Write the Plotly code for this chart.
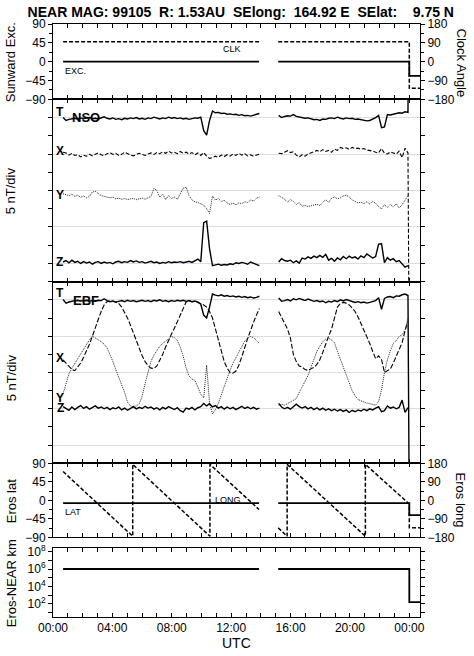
import numpy as np
import plotly.graph_objects as go

# ------------------------------------------------------------------ data
TITLE = "NEAR MAG: 99105  R: 1.53AU  SElong:  164.92 E  SElat:    9.75 N"
HOUR_TICKS = [0, 4, 8, 12, 16, 20, 24]
HOUR_LABELS = ["00:00", "04:00", "08:00", "12:00", "16:00", "20:00", "00:00"]
X_RANGE = [0, 24.72]

# sample-time grid of the two data segments (hours UTC), gap in between
SEG1 = (0.68, 13.9, 68)
SEG2 = (15.2, 23.91, 45)
GAP_T = 14.5
TAIL_T = [24.0, 24.72]

# ---- NSO components, deviation from their baseline (nT)
NSO_T1 = [0.0, -0.8, -0.5, -0.3, -0.2, -0.4, -0.1, -0.3, -0.2, 0.0, -0.3, -0.2, -0.4, -0.1, 0.2,
          -0.2, -0.4, -0.1, -0.5, -0.3, -0.6, -0.2, -0.4, -0.1, -0.3, 0.0, -0.4, -0.2, -0.5, -0.1, -0.3,
          0.1, -0.2, -0.4, -0.1, -0.3, 0.1, -0.2, 0.0, -0.3, -0.1, -0.4, -0.2, -0.5, -0.3, -0.1, -0.2,
          0.1, -3.6, -4.8, -0.8, 1.8, 1.3, 1.4, 1.1, 1.2, 0.9, 1.0, 0.8, 0.9, 0.6, 0.8, 0.5, 0.6, 0.4,
          0.6, 0.8, 1.1]
NSO_T2 = [0.6, 0.0, 0.3, 0.5, 0.4, 0.8, 0.3, 0.1, 0.0, -0.2, -0.1, -0.4, -0.6, -0.5, -0.8, -0.4,
          -0.5, -0.2, -0.1, -0.3, 0.1, -0.2, -0.4, -0.1, -0.3, -0.2, -0.5, -0.4, -0.6, -0.7, -0.9,
          -0.8, -0.5, 0.0, 0.6, -2.8, -2.6, 0.8, 0.7, 0.9, 1.0, 1.3, 1.2, 1.6, 1.4]
NSO_T_TAIL = [60, 60]

NSO_X1 = [0.5, 0.3, -0.3, 0.2, -0.4, -0.2, -0.8, -0.3, -0.6, -0.1, -0.5, -0.2, 0.3, -0.2, -0.5,
          0.1, 0.4, -0.1, 0.2, -0.4, -0.1, 0.5, 0.0, -0.3, -0.5, -0.2, 0.2, -0.1, -0.4, 0.0, 0.3,
          -0.1, 0.4, 0.1, 0.6, 0.2, 0.8, 0.3, 0.5, 0.1, 0.7, 0.2, 0.5, 0.0, 0.4, -0.2, 0.3, -0.4,
          0.4, -0.6, -1.2, -1.0, -0.6, -0.9, -0.3, -0.7, -0.2, -0.6, 0.0, -0.4, 0.2, -0.3, 0.1,
          -0.5, -0.2, -0.6, -0.3, 0.0]
NSO_X2 = [0.2, 0.1, 0.5, 0.9, 0.4, 0.6, -0.3, -0.8, -0.2, -0.6, 0.0, 0.3, 0.8, 1.0, 0.6, 1.2,
          0.7, 1.0, 0.5, 1.4, 1.0, 1.8, 1.5, 1.7, 1.3, 1.8, 1.5, 1.6, 1.3, 1.5, 1.1, 1.0, 0.8, 0.5,
          0.3, 1.5, 0.2, 0.0, 0.6, 0.3, 0.0, 0.8, -1.0, 1.6, 0.3]
NSO_X_TAIL = [-60, -60]

NSO_Y1 = [-0.9, -1.2, -1.4, -1.0, -1.6, -1.3, -1.9, -1.5, -2.0, -1.6, -0.4, -0.2, -0.8, -1.4,
          -1.6, -1.9, -2.0, -1.8, -2.3, -2.1, -2.4, -2.2, -2.5, -2.3, -2.2, -2.5, -2.3, -2.1, -2.4,
          -2.0, -1.6, 0.6, 0.0, -1.8, -1.0, -2.5, -1.4, -2.2, -1.8, -2.4, -0.8, 0.6, 0.9, -1.4,
          -2.6, -3.1, -3.3, -3.6, -4.0, -5.0, -6.3, -1.5, -2.6, -2.2, -3.0, -2.7, -3.4, -3.8, -3.5,
          -3.9, -3.4, -3.6, -3.1, -3.3, -2.6, -2.9, -2.1, -1.8]
NSO_Y2 = [-1.4, -1.8, -2.4, -3.2, -2.5, -3.0, -3.8, -3.3, -4.3, -4.1, -4.4, -4.2, -4.0, -3.8,
          -4.1, -3.2, -2.5, -3.3, -2.1, -1.8, -2.3, -2.0, -1.5, -1.3, -1.8, -2.6, -3.0, -3.4, -3.2,
          -3.6, -3.1, -3.7, -3.0, -3.5, -4.4, -5.0, -3.9, -4.6, -3.8, -4.5, -3.6, -4.8, -3.9, -2.6,
          -1.4]

NSO_Z1 = [0.4, 0.8, 0.2, 0.9, 0.3, 0.6, 0.0, 0.5, 0.1, 0.4, -0.2, 0.3, 0.5, 0.0, 0.4, 0.1, 0.3,
          -0.1, 0.4, 0.6, 0.2, 0.5, 0.3, 0.8, 0.4, 0.7, 0.3, 0.5, 0.1, 0.4, 0.6, 0.2, 0.4, 0.0, 0.3,
          0.1, 0.5, 0.2, 0.4, 0.3, 0.5, 0.2, 0.4, 0.6, 0.3, 0.7, 1.2, 0.5, 11.2, 11.6, 4.0, -0.6,
          -0.4, -0.2, -0.5, -0.3, -0.4, -0.1, -0.3, 0.2, 0.0, 0.3, 0.1, -0.2, 0.4, 0.0, -0.4, -0.6]
NSO_Z2 = [0.4, 1.3, 0.8, 0.6, 0.9, 0.2, 0.7, 0.1, 1.5, 1.2, 1.8, 1.4, 2.0, 1.6, 2.2, 1.7, 2.5,
          0.9, 1.4, 0.6, 1.5, 1.0, 1.9, 1.3, 2.0, 1.5, 1.8, 1.2, 2.1, 1.6, 2.6, 2.0, 1.5, 1.9, 5.3,
          5.4, 0.2, 1.6, 0.9, 1.3, 0.5, 0.8, -0.2, -1.0, -0.6]

# ---- EBF components, deviation from their baseline (nT)
EBF_T1 = [0.1, -0.9, -0.6, -0.3, -0.2, -0.1, -0.3, -0.2, -0.1, -0.3, -0.2, -0.4, -0.1, -0.2, 0.3,
          -0.2, -0.5, -0.3, -0.6, -0.4, -0.2, -0.5, -0.1, -0.4, -0.2, -0.5, -0.3, -0.1, -0.4, -0.2,
          -0.5, -0.1, -0.3, 0.0, -0.4, -0.2, -0.5, -0.2, -0.4, -0.1, -0.3, -0.1, -0.4, -0.2, -0.5,
          -0.3, -0.6, -1.2, -4.2, -5.0, -2.0, 1.6, 1.3, 1.1, 1.4, 1.0, 1.2, 0.9, 1.1, 0.8, 1.0, 0.7,
          0.9, 0.6, 0.8, 0.5, 0.7, 1.0]
EBF_T2 = [0.5, -0.4, -0.2, 0.1, -0.3, 0.3, 0.0, 0.4, 0.1, -0.2, 0.2, -0.1, -0.4, -0.2, -0.5,
          -0.3, -0.8, -0.4, -0.6, -0.2, -0.5, 0.0, -0.3, 0.1, -0.2, -0.4, -0.7, -0.5, -0.8, -0.6,
          -0.9, -0.7, -0.4, -0.2, 0.6, -2.6, 0.4, 0.8, 0.9, 0.6, 1.1, 1.0, 1.4, 1.6, 1.2]
EBF_T_TAIL = [-60, -60]

EBF_X1 = [3.5, 2.5, 1.5, 0.8, 0.5, 1.4, 2.6, 4.2, 5.8, 7.8, 10.0, 12.5, 14.6, 16.8, 18.6, 19.5,
          19.7, 19.6, 19.4, 19.0, 18.0, 16.6, 15.0, 13.0, 10.8, 8.6, 6.5, 4.6, 3.0, 1.9, 1.2, 1.1,
          1.8, 3.2, 5.0, 7.0, 9.0, 10.6, 12.2, 14.0, 16.0, 18.0, 19.4, 19.7, 19.5, 19.6, 19.3,
          19.0, 18.6, 18.0, 16.8, 15.0, 12.0, 8.5, 5.5, 3.0, 1.2, 0.0, -0.2, 0.4, 2.0, 4.2, 6.8,
          9.4, 11.8, 13.8, 15.8, 17.6]
EBF_X2 = [16.8, 15.0, 13.6, 12.0, 9.5, 5.0, 3.0, 1.8, 1.5, 0.8, 0.6, 1.0, 1.4, 2.2, 3.5, 5.5,
          8.0, 10.0, 12.0, 15.2, 18.0, 19.0, 19.3, 19.1, 18.6, 17.8, 16.8, 15.3, 13.5, 11.8, 9.8,
          8.0, 5.8, 3.8, 4.6, 3.6, 0.0, 0.4, 1.0, 2.6, 4.4, 6.0, 8.2, 11.5, 14.0]

EBF_Y1 = [-5.8, -3.0, -0.4, 1.2, 2.5, 3.6, 5.2, 6.2, 7.6, 9.0, 10.0, 9.6, 9.0, 8.5, 7.8, 6.8,
          5.0, 3.0, 0.8, -1.2, -3.5, -5.5, -8.2, -9.2, -9.4, -9.2, -8.6, -6.5, -3.0, 0.4, 3.0,
          4.8, 6.0, 7.2, 8.0, 8.6, 9.2, 9.9, 9.6, 8.8, 7.0, 4.5, 1.2, -1.0, -1.8, -2.2, -4.0,
          -6.0, -7.0, 2.0, -8.5, -11.4, -10.2, -8.5, -6.2, -3.8, -2.0, 0.6, 2.6, 4.2, 5.8, 7.4,
          8.6, 9.5, 9.9, 9.6, 8.8, 8.0]
EBF_Y2 = [-9.0, -8.7, -9.0, -8.6, -8.2, -7.8, -7.2, -5.5, -3.9, -2.4, -0.8, 1.4, 3.4, 5.8, 7.2,
          8.5, 9.2, 9.4, 9.0, 8.2, 5.8, 3.6, 1.6, -1.0, -3.0, -5.0, -6.4, -7.4, -7.8, -8.2, -8.4,
          -8.6, -8.8, -9.0, -8.0, -4.8, 0.0, 3.5, 6.0, 8.0, 8.8, 9.9, 10.4, 11.7, 15.0]

EBF_Z1 = [0.6, 0.2, -0.4, 0.5, -0.2, 0.4, 0.9, 0.1, 0.6, -0.1, 0.3, 0.8, 0.2, 0.5, 0.0, 0.4,
          -0.2, 0.3, 0.0, 0.5, -0.3, 0.2, -0.4, 0.1, 0.6, 0.0, 0.4, 0.1, 0.7, 0.2, 0.5, -0.1, 0.3,
          -0.3, 0.4, 0.0, 0.6, 0.2, -0.2, 0.3, -0.5, -0.9, 0.2, -0.1, 0.4, -0.3, 0.3, 0.6, 1.5,
          0.8, 1.4, 0.5, 0.9, 0.2, 0.6, -0.1, 0.5, 0.0, 0.4, -0.2, 0.3, 0.7, 0.1, 0.5, 0.0, 0.4,
          -0.1, 0.2]
EBF_Z2 = [1.5, 0.5, 0.0, 0.4, -0.1, 0.5, 1.3, 0.6, 0.2, 0.6, 0.0, 0.4, -0.2, 0.3, -0.3, 0.2,
          -0.4, 0.0, -0.5, -0.1, -0.6, -0.2, -0.7, -0.3, -1.0, -0.4, -0.8, -0.3, -0.6, -0.1, -0.5,
          0.0, -0.3, 0.2, 0.6, -0.8, -0.5, 0.8, 0.2, 0.5, 0.0, 0.4, 2.4, -1.0, 0.3]

# baselines (nT on the 0..50 "5 nT/div" scale)
NSO_OFFSETS = {"T": 45, "X": 35, "Y": 25, "Z": 5}
EBF_OFFSETS = {"T": 45, "X": 25, "Y": 25, "Z": 15}

# ---- slow quantities
SIMPLE_T = [0.68, 13.88, 14.5, 15.17, 24.0, 24.0, 24.72]
EXC = [0, 0, None, 0, 0, -34, -34]
CLK = [95, 95, None, 95, 95, -127, -127]
LAT = [-7, -7, None, -7, -7, -36, -36]
DIST = [1e6, 1e6, None, 1e6, 1e6, 150, 150]
LONG_T = [0.68, 5.37, 5.37, 10.57, 10.57, 13.88, 14.5, 15.17, 15.77, 15.77, 21.04, 21.04,
          24.0, 24.0, 24.72]
LONG = [140, -175, 175, -175, 175, -45, None, -134, -175, 175, -175, 175, -18, -133, -133]

DIST_TICKVALS = [1e1, 1e2, 1e3, 1e4, 1e5, 1e6, 1e7, 1e8]
DIST_TICKTEXT = ["", "10<sup>2</sup>", "", "10<sup>4</sup>", "", "10<sup>6</sup>", "",
                 "10<sup>8</sup>"]

# ------------------------------------------------------------------ helpers
def sample_times():
    t1 = list(np.linspace(*SEG1))
    t2 = list(np.linspace(*SEG2))
    return t1 + [GAP_T] + t2 + TAIL_T


def series(v1, v2, off, tail=None):
    tail = tail if tail is not None else [None, None]
    vals = list(v1) + [None] + list(v2) + list(tail)
    return [None if v is None else v + off for v in vals]


FONT = "Liberation Sans, Arial, sans-serif"
TIMES = sample_times()
fig = go.Figure()

SOLID = dict(color="black", width=1.4)
DASHED = dict(color="black", width=1.1, dash="4px,2px")
DOTTED = dict(color="#222222", width=1.0, dash="1px,1px")

# panel 1
fig.add_trace(go.Scatter(x=SIMPLE_T, y=EXC, mode="lines", line=dict(color="black", width=1.8),
                         xaxis="x", yaxis="y", connectgaps=False))
fig.add_trace(go.Scatter(x=SIMPLE_T, y=CLK, mode="lines",
                         line=dict(color="black", width=1.5, dash="4px,2px"),
                         xaxis="x", yaxis="y6", connectgaps=False))

# panel 2 (NSO)
for v1, v2, key, tail, ln in [(NSO_T1, NSO_T2, "T", NSO_T_TAIL, SOLID),
                              (NSO_X1, NSO_X2, "X", NSO_X_TAIL, DASHED),
                              (NSO_Y1, NSO_Y2, "Y", None, DOTTED),
                              (NSO_Z1, NSO_Z2, "Z", None, SOLID)]:
    fig.add_trace(go.Scatter(x=TIMES, y=series(v1, v2, NSO_OFFSETS[key], tail), mode="lines",
                             line=ln, xaxis="x2", yaxis="y2", connectgaps=False))

# panel 3 (EBF)
for v1, v2, key, tail, ln in [(EBF_T1, EBF_T2, "T", EBF_T_TAIL, SOLID),
                              (EBF_X1, EBF_X2, "X", None, dict(color="black", width=1.1, dash="5px,2px")),
                              (EBF_Y1, EBF_Y2, "Y", None, DOTTED),
                              (EBF_Z1, EBF_Z2, "Z", None, SOLID)]:
    fig.add_trace(go.Scatter(x=TIMES, y=series(v1, v2, EBF_OFFSETS[key], tail), mode="lines",
                             line=ln, xaxis="x3", yaxis="y3", connectgaps=False))

# panel 4
fig.add_trace(go.Scatter(x=SIMPLE_T, y=LAT, mode="lines", line=dict(color="black", width=1.8),
                         xaxis="x4", yaxis="y4", connectgaps=False))
fig.add_trace(go.Scatter(x=LONG_T, y=LONG, mode="lines",
                         line=dict(color="black", width=1.5, dash="4px,2px"),
                         xaxis="x4", yaxis="y7", connectgaps=False))

# panel 5
fig.add_trace(go.Scatter(x=SIMPLE_T, y=DIST, mode="lines", line=dict(color="black", width=1.8),
                         xaxis="x5", yaxis="y5", connectgaps=False))

# ------------------------------------------------------------------ layout
TICKFONT = dict(family=FONT, size=12, color="black")
H_TOP, H_BOT = 24, 39
PLOT_H = 656 - H_TOP - H_BOT


def frac(ypx):
    return (656 - H_BOT - ypx) / PLOT_H


D1 = [frac(99.3), 1.0]
D2 = [frac(281.7), frac(99.3)]
D3 = [frac(463.3), frac(281.7)]
D4 = [frac(537.3), frac(463.3)]
D5 = [0.0, frac(547.7)]


def xax(anchor, labels=False):
    d = dict(domain=[0, 1], range=X_RANGE, anchor=anchor, showgrid=False, zeroline=False,
             showline=True, linecolor="black", linewidth=1, mirror="ticks",
             ticks="inside", ticklen=4, tickcolor="black",
             tickvals=HOUR_TICKS, ticktext=HOUR_LABELS, showticklabels=labels,
             tickfont=TICKFONT,
             minor=dict(dtick=1, tick0=0, ticks="inside", ticklen=4, tickcolor="black"))
    return d


def yax_div(domain, anchor):
    return dict(domain=domain, range=[0, 50], anchor=anchor, showticklabels=False,
                tickvals=[5, 15, 25, 35, 45], ticks="outside", ticklen=4, tickcolor="black",
                showgrid=True, gridcolor="#dcdcea", gridwidth=1, zeroline=False,
                showline=True, linecolor="black", linewidth=1, mirror="ticks",
                minor=dict(dtick=5, tick0=0, ticks="outside", ticklen=4, tickcolor="black"))


def yax_ang(domain, anchor, rng, vals, minor_dt, side="left", overlay=None):
    d = dict(domain=domain, range=rng, anchor=anchor, side=side, tickvals=vals,
             ticks="outside", ticklen=4, tickcolor="black", tickfont=TICKFONT,
             showgrid=False, zeroline=False, showline=True, linecolor="black", linewidth=1,
             minor=dict(dtick=minor_dt, tick0=0, ticks="outside", ticklen=3, tickcolor="black"))
    if overlay:
        d["overlaying"] = overlay
    return d


fig.update_layout(
    width=474, height=656,
    margin=dict(l=53, r=53.5, t=H_TOP, b=H_BOT, pad=0, autoexpand=False),
    paper_bgcolor="white", plot_bgcolor="white",
    showlegend=False,
    font=dict(family=FONT, size=12, color="black"),
    title=dict(text="<b>" + TITLE.replace(" ", "\u00a0") + "</b>", x=0.508, xanchor="center",
               y=1 - 12 / 656, yanchor="middle", xref="container", yref="container",
               font=dict(family=FONT, size=14, color="black")),
    xaxis=xax("y"), xaxis2=xax("y2"), xaxis3=xax("y3"), xaxis4=xax("y4"),
    xaxis5=xax("y5", labels=True),
    yaxis=yax_ang(D1, "x", [-90, 90], [-90, -45, 0, 45, 90], 22.5),
    yaxis6=yax_ang(D1, "x", [-180, 180], [-180, -90, 0, 90, 180], 45, side="right",
                   overlay="y"),
    yaxis2=yax_div(D2, "x2"),
    yaxis3=yax_div(D3, "x3"),
    yaxis4=yax_ang(D4, "x4", [-90, 90], [-90, -45, 0, 45, 90], 22.5),
    yaxis7=yax_ang(D4, "x4", [-180, 180], [-180, -90, 0, 90, 180], 45, side="right",
                   overlay="y4"),
    yaxis5=dict(domain=D5, type="log", range=[0.46, 8.46], anchor="x5",
                tickvals=DIST_TICKVALS, ticktext=DIST_TICKTEXT, ticks="outside", ticklen=4,
                tickcolor="black", tickfont=TICKFONT, showgrid=False, zeroline=False,
                showline=True, linecolor="black", linewidth=1, mirror="ticks"),
)


def px_x(px):
    return (px - 52.8) / 367.7


ann = []
TITLE_FONT = dict(family=FONT, size=13, color="black")
for text, ypx, xpx, ang in [("Sunward Exc.", 62, 11, -90), ("5 nT/div", 191, 11, -90),
                            ("5 nT/div", 378, 11, -90), ("Eros lat", 501, 11, -90),
                            ("Eros-NEAR km", 583, 11, -90),
                            ("Clock Angle", 63, 462, 90), ("Eros long", 500, 462, 90)]:
    ann.append(dict(text=text, x=px_x(xpx), y=frac(ypx), xref="paper", yref="paper",
                    showarrow=False, textangle=ang, xanchor="center", yanchor="middle",
                    font=TITLE_FONT))
ann.append(dict(text="UTC", x=px_x(237), y=frac(643), xref="paper", yref="paper",
                showarrow=False, xanchor="center", yanchor="middle",
                font=dict(family=FONT, size=14, color="black")))

SMALL = dict(family=FONT, size=9, color="black")
for text, x, y, xr, yr in [("CLK", 12.05, 31, "x", "y"), ("EXC.", 1.49, -22, "x", "y"),
                           ("LONG", 11.8, 1, "x4", "y4"), ("LAT", 1.32, -29, "x4", "y4")]:
    ann.append(dict(text=text, x=x, y=y, xref=xr, yref=yr, showarrow=False,
                    xanchor="center", yanchor="middle", font=SMALL))

BOLD_L = dict(family=FONT, size=12, color="black")
BOLD_M = dict(family=FONT, size=13, color="black")
for text, x, y, xr, yr, f in [("T", 0.48, 46.5, "x2", "y2", BOLD_L), ("NSO", 2.23, 45.1, "x2", "y2", BOLD_M),
                              ("X", 0.45, 35.8, "x2", "y2", BOLD_L), ("Y", 0.45, 23.8, "x2", "y2", BOLD_L),
                              ("Z", 0.45, 5.5, "x2", "y2", BOLD_L),
                              ("T", 0.48, 46.9, "x3", "y3", BOLD_L), ("EBF", 2.23, 44.7, "x3", "y3", BOLD_M),
                              ("X", 0.45, 29.0, "x3", "y3", BOLD_L), ("Y", 0.48, 17.9, "x3", "y3", BOLD_L),
                              ("Z", 0.48, 15.3, "x3", "y3", BOLD_L)]:
    ann.append(dict(text="<b>" + text + "</b>", x=x, y=y, xref=xr, yref=yr, showarrow=False,
                    xanchor="center", yanchor="middle", font=f))

fig.update_layout(annotations=ann)
fig.write_html("out.html", config={"displayModeBar": False},
               post_script="document.body.style.margin='0px';")
